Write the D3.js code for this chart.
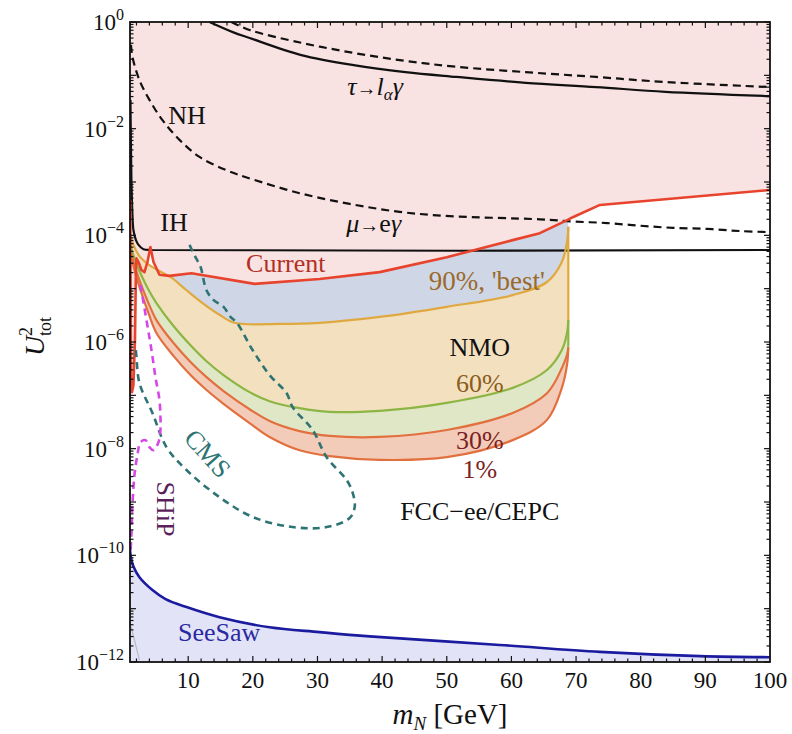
<!DOCTYPE html>
<html><head><meta charset="utf-8">
<script src="https://cdn.jsdelivr.net/npm/d3@7"></script>
<style>
body{margin:0;background:#fff}
svg{display:block}
text{font-family:"Liberation Serif","Times New Roman",serif}
</style>
</head><body>
<svg id="chart" width="792" height="734"></svg>
<script>
// ---- data: each point is [m_N in GeV, log10(U^2_tot)] ----
const currentBound = [[1.04,-3.34],[1.10,-5.21],[1.16,-6.71],[1.30,-6.94],[1.53,-6.81],[1.77,-5.96],[1.92,-4.65],[2.00,-4.43],[2.31,-4.50],[2.77,-4.65],[3.24,-4.69],[3.70,-4.50],[4.16,-4.22],[4.63,-4.50],[5.56,-4.74],[7.11,-4.76],[10.51,-4.71],[20.27,-4.91],[30.33,-4.82],[39.62,-4.69],[50.0,-4.41],[60.2,-4.09],[64.4,-3.96],[68.7,-3.71],[69.5,-3.66],[73.7,-3.43],[100,-3.15]];
const nmo90 = [[1.07,-3.99],[1.53,-4.18],[2.46,-4.39],[4.01,-4.56],[5.56,-4.67],[7.26,-4.78],[9.74,-5.03],[12.22,-5.27],[14.85,-5.49],[17.17,-5.64],[24.14,-5.66],[30.33,-5.64],[39.62,-5.53],[50.0,-5.34],[60.2,-5.12],[65.5,-4.875],[67.8,-4.50],[68.6,-4.125],[68.8,-3.84]];
const nmo60 = [[1.07,-4.18],[1.69,-4.43],[2.62,-4.71],[3.86,-5.02],[5.09,-5.27],[7.73,-5.70],[10.36,-6.06],[12.84,-6.36],[15.47,-6.62],[19.50,-6.94],[22.59,-7.11],[27.24,-7.24],[31.88,-7.31],[39.62,-7.29],[50.0,-7.14],[60.2,-6.86],[65.5,-6.525],[67.8,-6.15],[68.6,-5.83],[68.8,-5.59]];
const nmo30 = [[1.07,-4.275],[1.69,-4.56],[2.62,-4.89],[3.86,-5.27],[5.09,-5.59],[7.73,-6.02],[10.36,-6.375],[12.84,-6.66],[15.47,-6.92],[19.50,-7.26],[22.59,-7.48],[27.24,-7.67],[31.88,-7.76],[39.62,-7.78],[50.0,-7.65],[60.2,-7.33],[65.5,-6.96],[67.8,-6.49],[68.6,-6.24],[68.8,-6.09]];
const nmo01 = [[1.07,-4.33],[1.69,-4.65],[2.62,-5.03],[3.86,-5.46],[5.09,-5.83],[7.73,-6.26],[10.36,-6.62],[12.84,-6.90],[15.47,-7.16],[19.50,-7.52],[22.59,-7.78],[27.24,-8.03],[31.88,-8.14],[39.62,-8.21],[50.0,-8.16],[60.2,-7.84],[65.5,-7.46],[67.8,-6.86],[68.6,-6.43],[68.8,-6.11]];
const nhLine = [[1.15,-0.43],[1.38,-0.656],[2.46,-1.09],[4.01,-1.46],[6.02,-1.84],[8.66,-2.21],[11.75,-2.53],[15.93,-2.78],[19.96,-2.95],[27.24,-3.21],[34.98,-3.41],[42.72,-3.56],[50.46,-3.64],[64.4,-3.70],[69.5,-3.74],[74.8,-3.77],[79.9,-3.82],[85.0,-3.86],[90.3,-3.88],[95.4,-3.92],[100,-3.94]];
const ihLine = [[1.07,-1.46],[1.22,-2.96],[1.38,-3.62],[1.53,-3.90],[1.92,-4.09],[2.31,-4.18],[3.08,-4.26],[4.5,-4.275],[100,-4.275]];
const tauSolid = [[13.3,0],[16.9,-0.19],[19.5,-0.30],[27.5,-0.62],[35.6,-0.81],[43.6,-0.94],[51.5,-1.03],[62.2,-1.14],[73.1,-1.22],[83.8,-1.31],[100,-1.39]];
const tauDashed = [[16.7,0],[19.5,-0.15],[27.5,-0.39],[35.6,-0.58],[43.6,-0.73],[51.5,-0.84],[62.2,-0.94],[73.1,-1.03],[83.8,-1.125],[100,-1.22]];
const cmsLine = [[10.20,-4.18],[11.13,-4.41],[11.91,-4.59],[12.83,-5.03],[13.91,-5.21],[15.47,-5.34],[16.55,-5.53],[17.48,-5.63],[19.96,-6.15],[22.59,-6.62],[25.23,-6.96],[26.15,-7.22],[29.25,-7.65],[31.42,-8.16],[34.52,-8.59],[35.45,-8.83],[35.76,-9.09],[34.98,-9.30],[31.42,-9.47],[26.15,-9.47],[19.96,-9.28],[14.85,-8.91],[9.74,-8.40],[6.64,-7.97],[4.47,-7.33],[2.46,-6.77],[2.00,-6.28],[1.84,-6.06]];
const shipLine = [[2.62,-4.93],[3.55,-5.59],[4.32,-6.15],[4.94,-6.66],[5.56,-7.09],[5.71,-7.41],[5.71,-7.65],[5.40,-7.88],[4.63,-8.03],[4.01,-7.97],[3.39,-7.84],[2.62,-7.88],[2.15,-8.12],[1.69,-8.49],[1.38,-9.06],[1.22,-9.62],[1.07,-9.94]];
const seesawLine = [[1.0,-9.85],[1.07,-9.99],[1.5,-10.2],[2.46,-10.41],[4.47,-10.65],[6.5,-10.82],[9.74,-10.97],[14.85,-11.16],[22.59,-11.35],[30.33,-11.44],[38.07,-11.52],[58.2,-11.68],[73.7,-11.81],[89.2,-11.89],[100,-11.91]];
const greyLine = [[1.18,-11.34],[2.46,-11.96]];
const xTickValues = [10,20,30,40,50,60,70,80,90,100];
const yLabelExps = [0,-2,-4,-6,-8,-10,-12];

// ---- scales ----
const x = d3.scaleLinear().domain([1, 100]).range([130, 770]);
const y = d3.scaleLog().domain([1e-12, 1]).range([662, 22]);
const P = d => [x(d[0]), y(Math.pow(10, d[1]))];
const svg = d3.select("#chart");
const smooth = d3.line().x(d => P(d)[0]).y(d => P(d)[1]).curve(d3.curveCatmullRom.alpha(0.5));
const straight = d3.line().x(d => P(d)[0]).y(d => P(d)[1]);
svg.append("defs").append("clipPath").attr("id","pc")
  .append("rect").attr("x",130).attr("y",22).attr("width",640).attr("height",640);
const g = svg.append("g").attr("clip-path","url(#pc)");

const seg = (gen, pts) => gen(pts).replace(/^M/, "L");
function fillPath(parts, fill){
  const d = "M" + parts.map(([gen, pts]) => seg(gen, pts)).join("").slice(1) + "Z";
  g.append("path").attr("d", d).attr("fill", fill).attr("stroke","none");
}
const rev = a => a.slice().reverse();

fillPath([[straight, [[1,0],[1,-3.34]]],[straight, currentBound],[straight, [[100,0]]]], "#f9e2e2");
fillPath([[smooth, seesawLine],[straight, [[100,-12],[1,-12]]]], "#e3e3f8");
const redPart = currentBound.filter(d => d[0] >= 7.1 && d[0] <= 68.75);
const yelPart = nmo90.filter(d => d[0] >= 7.2);
fillPath([[straight, redPart],[smooth, rev(yelPart)]], "#cfd7e7");
fillPath([[smooth, nmo90],[smooth, rev(nmo60)]], "#f3e0bf");
fillPath([[smooth, nmo60],[smooth, rev(nmo30)]], "#e0e7c6");
fillPath([[smooth, nmo30],[smooth, rev(nmo01)]], "#f2ccb9");

function stroke(gen, pts, color, w, dash){
  const p = g.append("path").attr("d", gen(pts)).attr("fill","none")
    .attr("stroke", color).attr("stroke-width", w).attr("stroke-linejoin","round");
  if (dash) p.attr("stroke-dasharray", dash);
  return p;
}
const last = a => a[a.length-1];
stroke(straight, greyLine, "#b8b8c8", 1.2);
stroke(smooth, tauSolid, "#111", 2.2);
stroke(smooth, tauDashed, "#111", 2.2, "8,5");
stroke(smooth, nhLine, "#111", 2.2, "8,5");
stroke(smooth, ihLine, "#111", 2.2);
stroke(smooth, nmo90, "#e0a93f", 2.2);
stroke(straight, [last(nmo90), last(nmo60)], "#e0a93f", 2.2);
stroke(smooth, nmo60, "#8db543", 2.2);
stroke(straight, [last(nmo60), last(nmo30)], "#8db543", 2.2);
stroke(smooth, nmo30, "#e2703f", 2.2);
stroke(smooth, nmo01, "#e2703f", 2.2);
stroke(straight, currentBound, "#e8432c", 2.6);
stroke(smooth, cmsLine, "#2f7474", 2.6, "7,5");
stroke(smooth, shipLine, "#d548e6", 2.6, "7,5");
stroke(smooth, seesawLine, "#1b1ba0", 2.6);

// ---- frame & ticks ----
const ax = svg.append("g");
ax.append("rect").attr("x",130).attr("y",22).attr("width",640).attr("height",640)
  .attr("fill","none").attr("stroke","#111").attr("stroke-width",1.8);
const tk = (x1,y1,x2,y2) => ax.append("line").attr("x1",x1).attr("y1",y1).attr("x2",x2).attr("y2",y2)
  .attr("stroke","#111").attr("stroke-width",1.2);
d3.range(2, 100, 2).forEach(v => {
  const L = v % 10 === 0 ? 6 : 3.5;
  tk(x(v), 662, x(v), 662 - L);
  tk(x(v), 22, x(v), 22 + L);
});
for (let e = -12; e <= 0; e++) {
  const v = Math.pow(10, e);
  tk(130, y(v), 136, y(v)); tk(770, y(v), 764, y(v));
  if (e < 0) for (let k = 2; k <= 9; k++) {
    const u = k * v;
    tk(130, y(u), 133.5, y(u)); tk(770, y(u), 766.5, y(u));
  }
}
xTickValues.forEach(v => {
  ax.append("text").attr("x", x(v)).attr("y", 688).attr("text-anchor","middle")
    .attr("font-size", 23).attr("fill","#111").text(v);
});
yLabelExps.forEach(e => {
  const t = ax.append("text").attr("x", 124).attr("y", y(Math.pow(10,e)) + 8)
    .attr("text-anchor","end").attr("fill","#111").attr("font-size",23);
  t.append("tspan").text("10");
  t.append("tspan").attr("font-size",16).attr("dy",-10).text(e === 0 ? "0" : "\u2212" + (-e));
});
const xt = ax.append("text").attr("x", 450).attr("y", 724).attr("text-anchor","middle")
  .attr("font-size", 29).attr("fill","#111");
xt.append("tspan").attr("font-style","italic").text("m");
xt.append("tspan").attr("font-style","italic").attr("font-size",19).attr("dy",6).text("N");
xt.append("tspan").attr("dy",-6).text(" [GeV]");
const yt = ax.append("g").attr("transform","translate(44,342) rotate(-90)");
yt.append("text").attr("x",-14).attr("y",0).attr("font-size",28).attr("font-style","italic").attr("fill","#111").text("U");
yt.append("text").attr("x",6).attr("y",-12).attr("font-size",18).attr("fill","#111").text("2");
yt.append("text").attr("x",6).attr("y",7).attr("font-size",18).attr("fill","#111").text("tot");

// ---- annotations (placed in data coordinates) ----
function label(mx, le, parts, color, size, rot){
  const px = x(mx), py = y(Math.pow(10, le));
  const t = svg.append("text").attr("fill", color).attr("font-size", size || 26)
    .attr("text-anchor","middle");
  if (rot) t.attr("transform", `translate(${px},${py}) rotate(${rot})`);
  else t.attr("x", px).attr("y", py);
  parts.forEach(p => {
    const s = t.append("tspan").text(p.t);
    if (p.i) s.attr("font-style","italic");
    if (p.fs) s.attr("font-size", p.fs);
    if (p.dy) s.attr("dy", p.dy);
  });
  return t;
}
label(9.82, -1.91, [{t:"NH"}], "#111");
label(7.81, -3.92, [{t:"IH"}], "#111");
label(38.9, -1.37, [{t:"\u03c4",i:1},{t:"\u2192",fs:20},{t:"l",i:1},{t:"\u03b1",i:1,fs:17,dy:5},{t:"\u03b3",i:1,dy:-5}], "#111");
label(38.7, -3.94, [{t:"\u03bc",i:1},{t:"\u2192",fs:20},{t:"e"},{t:"\u03b3",i:1}], "#111");
label(25.1, -4.69, [{t:"Current"}], "#b3301f");
label(56.2, -5.03, [{t:"90%, 'best'"}], "#9a6a2c", 27);
label(55.1, -6.26, [{t:"NMO"}], "#111");
label(55.1, -6.94, [{t:"60%"}], "#8a5c1e");
label(55.1, -8.01, [{t:"30%"}], "#7a2222");
label(55.1, -8.55, [{t:"1%"}], "#7a2222");
label(55.1, -9.34, [{t:"FCC\u2212ee/CEPC"}], "#111");
label(14.8, -11.61, [{t:"SeeSaw"}], "#2a2aa0");
label(12.0, -8.2, [{t:"CMS"}], "#2f7474", 26, 48);
label(5.2, -9.13, [{t:"SHiP"}], "#5b1f5b", 26, 90);
</script>
</body></html>
